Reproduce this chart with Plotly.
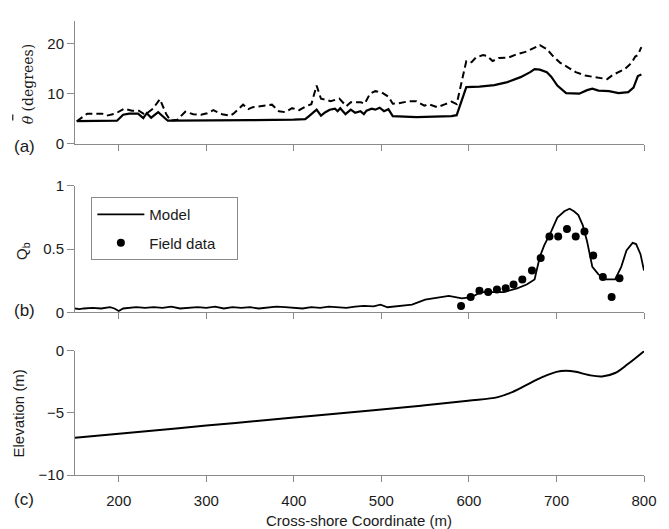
import plotly.graph_objects as go

# ---------------- data ----------------
# Panel (a): mean wave angle (degrees)
theta_model_x = [152, 160, 180, 198, 205, 212, 222, 228, 232, 237, 245, 250, 256, 262, 300, 350, 400,
                 413, 418, 426, 431, 436, 441, 447, 450, 453, 459, 465, 470, 476, 480, 483, 489, 493,
                 498, 503, 508, 513, 540, 570, 580, 586, 597, 612, 629, 644, 659, 670, 675, 681, 689,
                 694, 701, 711, 726, 735, 741, 748, 760, 771, 782, 788, 793, 797]
theta_model_y = [4.5, 4.5, 4.5, 4.6, 5.8, 6.0, 6.0, 5.1, 6.1, 5.2, 6.3, 5.6, 4.6, 4.6, 4.6, 4.7, 4.8,
                 4.9, 5.6, 6.8, 5.6, 6.3, 6.8, 7.0, 6.5, 7.1, 5.9, 6.8, 6.2, 6.5, 5.9, 6.6, 7.0, 6.8,
                 7.2, 6.5, 6.9, 5.5, 5.3, 5.4, 5.5, 5.7, 11.3, 11.4, 11.7, 12.3, 13.3, 14.3, 14.9, 14.8,
                 14.3, 13.4, 11.6, 10.1, 10.0, 10.7, 11.0, 10.6, 10.5, 10.1, 10.3, 11.2, 13.5, 13.8]

theta_data_x = [152, 164, 181, 186, 196, 206, 215, 223, 230, 239, 247, 254, 259, 267, 276, 285, 294,
                301, 308, 318, 327, 331, 342, 348, 353, 364, 375, 383, 390, 398, 406, 413, 420, 426,
                431, 436, 442, 452, 460, 465, 476, 481, 487, 493, 500, 508, 513, 520, 532, 540, 549,
                554, 564, 573, 580, 586, 597, 603, 608, 616, 621, 627, 634, 645, 655, 666, 675, 681,
                689, 696, 704, 713, 722, 733, 745, 758, 764, 771, 778, 786, 790, 793, 797]
theta_data_y = [4.5, 6.0, 6.0, 5.6, 6.0, 7.0, 6.6, 6.6, 5.8, 7.0, 8.9, 6.0, 4.6, 4.8, 6.4, 5.9, 5.8,
                6.1, 6.7, 5.9, 5.6, 6.0, 7.8, 6.9, 7.3, 7.6, 7.8, 6.5, 6.3, 7.1, 6.7, 7.4, 7.9, 11.6,
                9.0, 8.8, 8.5, 9.0, 7.5, 8.3, 8.3, 8.0, 10.0, 10.5, 10.3, 9.4, 8.0, 8.1, 8.5, 8.5, 7.6,
                7.9, 7.3, 7.9, 8.4, 7.9, 16.5, 16.3, 17.2, 17.7, 17.5, 16.5, 17.1, 17.2, 17.9, 18.4,
                19.2, 19.7, 18.9, 17.5, 16.2, 15.2, 14.3, 13.6, 13.3, 12.9, 13.7, 14.3, 14.9, 16.2,
                17.4, 17.7, 19.3]

# Panel (b): fraction of breaking waves Qb
qb_model_x = [150, 155, 160, 170, 180, 190, 195, 200, 205, 210, 220, 230, 240, 250, 260, 270, 280,
              290, 300, 310, 320, 330, 340, 350, 360, 370, 380, 390, 400, 410, 420, 430, 440, 450,
              460, 470, 480, 491, 499, 507, 520, 535, 550, 565, 577, 592, 603, 614, 629, 640, 655,
              666, 675, 681, 686, 694, 701, 709, 715, 720, 725, 730, 735, 741, 748, 756, 767, 774,
              780, 787, 791, 796, 800]
qb_model_y = [0.03, 0.025, 0.03, 0.035, 0.03, 0.04, 0.03, 0.01, 0.03, 0.035, 0.04, 0.035, 0.04, 0.035,
              0.045, 0.03, 0.035, 0.04, 0.035, 0.045, 0.03, 0.04, 0.035, 0.04, 0.03, 0.035, 0.045,
              0.04, 0.035, 0.03, 0.04, 0.035, 0.045, 0.04, 0.035, 0.045, 0.05, 0.047, 0.06, 0.04,
              0.05, 0.06, 0.1, 0.12, 0.13, 0.11, 0.12, 0.16, 0.16, 0.16, 0.19, 0.22, 0.26, 0.44,
              0.53, 0.64, 0.75, 0.80, 0.82, 0.80, 0.77, 0.69, 0.56, 0.36, 0.30, 0.26, 0.26, 0.36,
              0.49, 0.55, 0.54, 0.46, 0.33]

qb_field_x = [591, 602, 612, 622, 632, 642, 651, 661, 672, 682, 692, 702, 712, 722, 732, 742, 753, 763, 772]
qb_field_y = [0.05, 0.12, 0.17, 0.16, 0.18, 0.19, 0.22, 0.26, 0.33, 0.43, 0.60, 0.60, 0.66, 0.60,
              0.64, 0.45, 0.28, 0.12, 0.27]

# Panel (c): bathymetry
elev_x = [150, 200, 300, 400, 491, 550, 599, 633, 651, 666, 685, 700, 711, 722, 737, 752, 767, 782, 800]
elev_y = [-7.0, -6.68, -6.03, -5.38, -4.79, -4.4, -4.03, -3.74, -3.29, -2.76, -2.1, -1.71, -1.63,
          -1.71, -1.97, -2.08, -1.8, -1.06, -0.05]

x_ticks = [200, 300, 400, 500, 600, 700, 800]
panel_labels = ["(a)", "(b)", "(c)"]
legend_names = ["Model", "Field data"]

# ---------------- layout helpers ----------------
W, H = 669, 529
L, R, T, B = 75.3, 13, 12.7, 54
PW, PH = W - L - R, H - T - B


def px_x(p):
    return (p - L) / PW


def px_y(p):
    return (H - B - p) / PH


FONT = "Liberation Sans, Arial, Helvetica, sans-serif"
SERIF = "DejaVu Serif, Liberation Serif, serif"
AXC = "#8a8a8a"
TXT = "#1a1a1a"
PAD = "&nbsp;" * 4  # extra room so the legend box is as wide as the original

fig = go.Figure()

fig.add_trace(go.Scatter(x=theta_data_x, y=theta_data_y, mode="lines", showlegend=False,
                         line=dict(color="black", width=2, dash="7px,4px"), xaxis="x", yaxis="y"))
fig.add_trace(go.Scatter(x=theta_model_x, y=theta_model_y, mode="lines", showlegend=False,
                         line=dict(color="black", width=2.2), xaxis="x", yaxis="y"))

fig.add_trace(go.Scatter(x=qb_model_x, y=qb_model_y, mode="lines", name=legend_names[0], legendgroup="m",
                         line=dict(color="black", width=1.8), xaxis="x2", yaxis="y2"))
fig.add_trace(go.Scatter(x=qb_field_x, y=qb_field_y, mode="markers", name=legend_names[1] + PAD,
                         legendgroup="f", marker=dict(color="black", size=8), xaxis="x2", yaxis="y2"))

fig.add_trace(go.Scatter(x=elev_x, y=elev_y, mode="lines", showlegend=False, line_shape="spline",
                         line=dict(color="black", width=2), xaxis="x3", yaxis="y3"))

common_x = dict(range=[150, 800], tickvals=x_ticks, ticks="outside", ticklen=6, tickcolor=AXC,
                showline=True, linecolor=AXC, linewidth=1, showgrid=False, zeroline=False,
                tickfont=dict(family=FONT, size=15, color=TXT))
common_y = dict(ticks="outside", ticklen=7, tickcolor=AXC, showline=True, linecolor=AXC, linewidth=1,
                showgrid=False, zeroline=False, tickfont=dict(family=FONT, size=15, color=TXT))

dom_a = [px_y(137.7), 1.0]
dom_b = [px_y(309.3), px_y(180.7)]
dom_c = [0.0, px_y(348.3)]

fig.update_layout(
    width=W, height=H,
    margin=dict(l=L, r=R, t=T, b=B),
    plot_bgcolor="white", paper_bgcolor="white",
    xaxis=dict(common_x, anchor="y", showticklabels=False),
    xaxis2=dict(common_x, anchor="y2", showticklabels=False),
    xaxis3=dict(common_x, anchor="y3", showticklabels=True, ticklabelstandoff=6),
    yaxis=dict(common_y, domain=dom_a, range=[0, 24.5], tickvals=[0, 10, 20], anchor="x"),
    yaxis2=dict(common_y, domain=dom_b, range=[0, 1], tickvals=[0, 0.5, 1], ticktext=["0", "0.5", "1"],
                anchor="x2"),
    yaxis3=dict(common_y, domain=dom_c, range=[-10, 0], tickvals=[-10, -5, 0], anchor="x3"),
    legend=dict(x=px_x(92), y=px_y(192), xanchor="left", yanchor="top",
                bordercolor=AXC, borderwidth=1, bgcolor="white",
                font=dict(family=FONT, size=15, color=TXT), tracegroupgap=6,
                itemwidth=47),
    showlegend=True,
)

# bar over theta (rotated label)
fig.add_shape(type="line", xref="paper", yref="paper",
              x0=px_x(11.8), x1=px_x(11.8), y0=px_y(108), y1=px_y(114),
              line=dict(color=TXT, width=1.2))

annots = [
    dict(text="<i>θ</i> (degrees)", x=px_x(27), y=px_y(77.5), textangle=-90,
         font=dict(family=SERIF, size=14, color=TXT)),
    dict(text="Q<sub>b</sub>", x=px_x(21), y=px_y(247), textangle=-90,
         font=dict(family=FONT, size=15, color=TXT)),
    dict(text="Elevation (m)", x=px_x(17.5), y=px_y(412), textangle=-90,
         font=dict(family=FONT, size=15, color=TXT)),
    dict(text="Cross-shore Coordinate (m)", x=px_x(365.5), y=px_y(521),
         font=dict(family=FONT, size=15, color=TXT)),
    dict(text=panel_labels[0], x=px_x(24), y=px_y(140), font=dict(family=FONT, size=17, color=TXT)),
    dict(text=panel_labels[1], x=px_x(24), y=px_y(308), font=dict(family=FONT, size=17, color=TXT)),
    dict(text=panel_labels[2], x=px_x(23), y=px_y(500), font=dict(family=FONT, size=17, color=TXT)),
]
for a in annots:
    fig.add_annotation(xref="paper", yref="paper", showarrow=False, xanchor="center", yanchor="middle", **a)

fig.write_html("out.html", config={"displayModeBar": False},
               post_script="document.body.style.margin='0';document.body.style.overflow='hidden';")
